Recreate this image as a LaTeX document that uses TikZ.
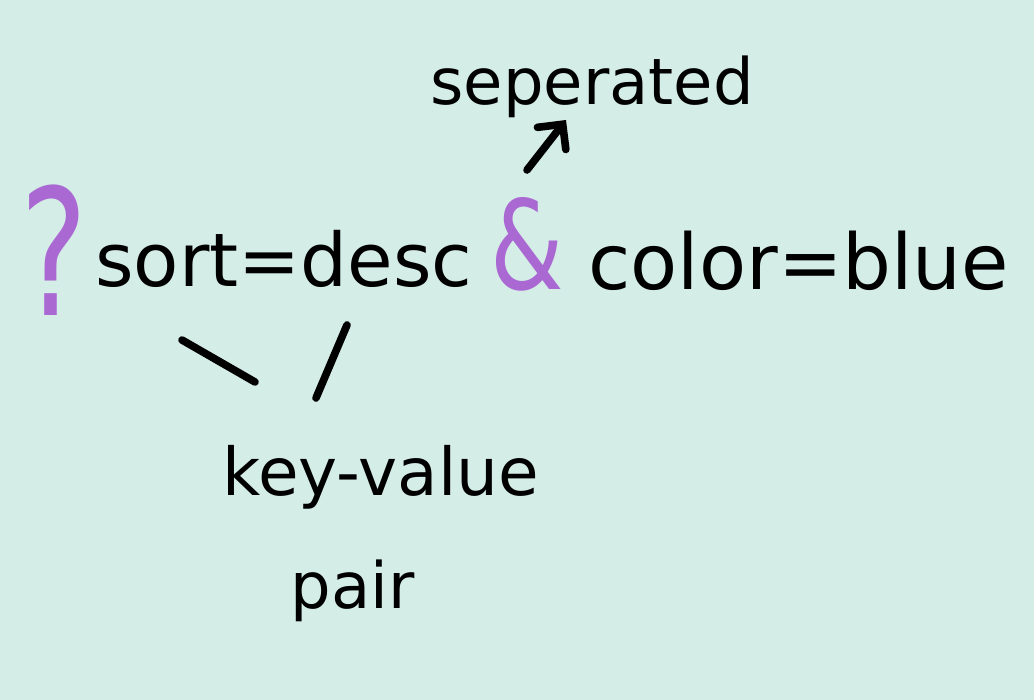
\documentclass[tikz,border=0pt]{standalone}
\usepackage{fontspec}
\setmainfont{DejaVu Sans}
\usetikzlibrary{arrows.meta}

\definecolor{mint}{RGB}{213,237,231}
\definecolor{lilac}{RGB}{170,105,210}

\newcommand*{\pxw}{1034}
\newcommand*{\pxh}{700}

\begin{document}
\begin{tikzpicture}
[
	x=0.5pt, y=-0.5pt,
	ink/.style={line width=3.8pt, line cap=round, black},
	word/.style={inner sep=0pt, anchor=base west, font=\fontsize{37}{40}\selectfont},
	note/.style={inner sep=0pt, anchor=base west, font=\fontsize{32}{36}\selectfont},
	sign/.style={inner sep=0pt, anchor=base west, text=lilac}
]

	% background
	\fill[mint] (0,0) rectangle (\pxw,\pxh);
	\useasboundingbox (0,0) rectangle (\pxw,\pxh);

	% query string
	\node[sign, font=\fontsize{88}{90}\selectfont] (qmark) at (20,316) {\scalebox{0.72}[1]{?}};
	\node[word] (sortpair) at (95,287) {sort=desc};
	\node[sign, font=\fontsize{62}{64}\selectfont] (amp) at (490,290) {\scalebox{0.76}[1]{\&}};
	\node[word, font=\fontsize{38.5}{42}\selectfont] (colorpair) at (588,290) {color=blue};

	% notes
	\node[note] (sep) at (430,105) {seperated};
	\node[note, font=\fontsize{33}{36}\selectfont] (kv) at (222,495) {key-value};
	\node[note] (pair) at (290,608) {pair};

	% arrow to the note above
	\coordinate (arrowtail) at (527,170);
	\coordinate (arrowhead) at (566,120);
	\draw[ink, -{Straight Barb[length=9pt, width=18pt, line cap=round]}] (arrowtail) -- (arrowhead);

	% strokes from the note below
	\coordinate (keytick) at (182,340);
	\coordinate (keyfoot) at (255,382);
	\coordinate (valtick) at (347,325);
	\coordinate (valfoot) at (316,398);
	\draw[ink] (keytick) -- (keyfoot);
	\draw[ink] (valtick) -- (valfoot);

\end{tikzpicture}
\end{document}
